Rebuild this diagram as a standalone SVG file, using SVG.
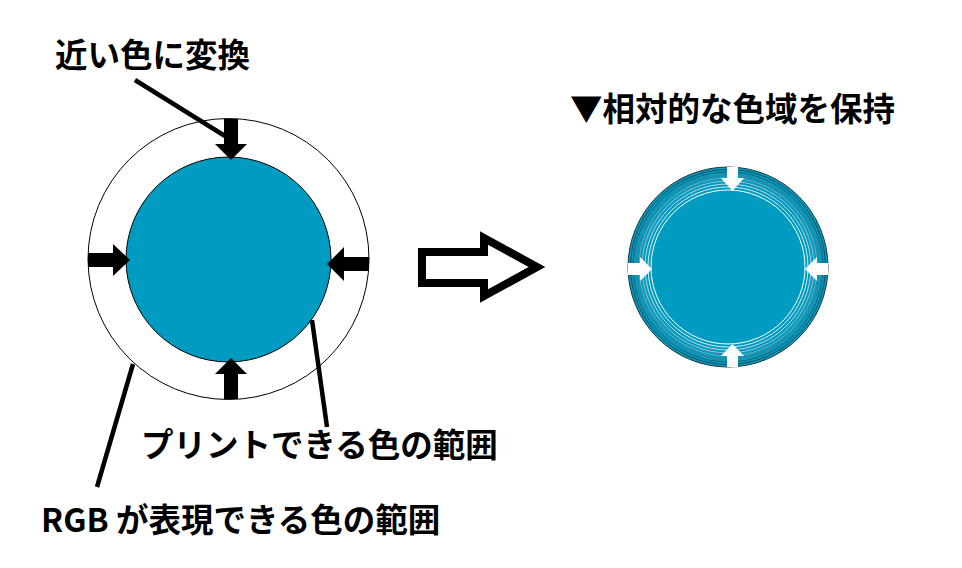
<svg xmlns="http://www.w3.org/2000/svg" width="962" height="568" viewBox="0 0 962 568">
<style>
.t{font-family:"Noto Sans CJK JP","Noto Sans",sans-serif;font-weight:700;font-size:32.5px;fill:#000}
.lead{stroke:#000;stroke-width:4.5;fill:none}
.blk{fill:#000}
.wht{fill:#fff}
.ring{fill:none;stroke-width:1}
</style>
<rect width="962" height="568" fill="#fff"/>
<g id="rgb-gamut">
<circle cx="228.5" cy="259" r="140.5" fill="#fff" stroke="#000" stroke-width="1"/>
</g>
<g id="print-gamut">
<circle cx="228.5" cy="259.5" r="102.5" fill="#009bc1" stroke="#000" stroke-width="1"/>
</g>
<g id="compress-arrows">
<polygon class="blk" points="224,119 238,119 238,144 247,144 231,160 215,144 224,144"/>
<polygon class="blk" points="224,399 238,399 238,374 247,374 231,358 215,374 224,374"/>
<polygon class="blk" points="88,253 113,253 113,244 130,260 113,276 113,267 88,267"/>
<polygon class="blk" points="369,257 344,257 344,247 327,264 344,281 344,271 369,271"/>
</g>
<g id="connectors">
<line class="lead" x1="135" y1="80" x2="225" y2="136"/>
<line class="lead" x1="312" y1="320" x2="327" y2="427"/>
<line class="lead" x1="133" y1="364" x2="97" y2="487"/>
</g>
<g id="big-arrow">
<path d="M422,252 H484 V238 L537,267 L484,296 V283 H422 Z" fill="#fff" stroke="#000" stroke-width="8" stroke-linejoin="miter"/>
</g>
<g id="relative-gamut">
<circle cx="728" cy="267" r="100" fill="#009bc1" stroke="#22343a" stroke-width="1"/>
<circle class="ring" cx="728" cy="267" r="97.5" stroke="#174c59"/>
<circle class="ring" cx="728" cy="267" r="95" stroke="#1f6070"/>
<circle class="ring" cx="728" cy="267" r="92" stroke="#4a7f8c"/>
<circle class="ring" cx="728" cy="267" r="89" stroke="#7ea4ae"/>
<circle class="ring" cx="728" cy="267" r="86" stroke="#a0c2ca"/>
<circle class="ring" cx="728" cy="267" r="83" stroke="#bcd9e0"/>
<circle class="ring" cx="728" cy="267" r="80" stroke="#d9eef2"/>
<circle class="ring" cx="728" cy="267" r="77" stroke="#ffffff"/>
<polygon class="wht" points="727,167 738,167 738,178 744,178 732.5,191 721,178 727,178"/>
<polygon class="wht" points="727,367 738,367 738,356 744,356 732.5,344 721,356 727,356"/>
<polygon class="wht" points="628,263 640,263 640,257 652,269 640,281 640,275 628,275"/>
<polygon class="wht" points="828,263 817,263 817,257 805,269 817,281 817,275 828,275"/>
</g>
<g id="labels">
<text class="t" x="55" y="67">近い色に変換</text>
<text class="t" x="570" y="121">▼相対的な色域を保持</text>
<text class="t" x="141" y="457">プリントできる色の範囲</text>
<text class="t" x="41" y="532">RGB が表現できる色の範囲</text>
</g>
</svg>
